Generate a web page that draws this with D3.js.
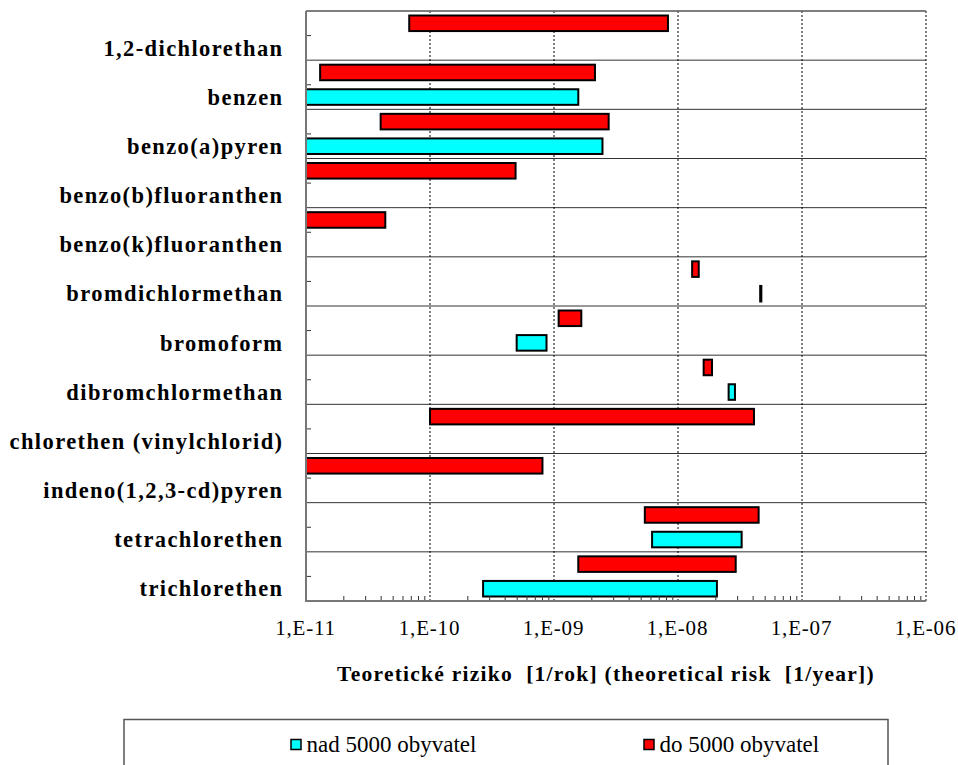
<!DOCTYPE html>
<html>
<head>
<meta charset="utf-8">
<script src="https://cdn.jsdelivr.net/npm/d3@7"></script>
<style>
  body { margin: 0; background: #fff; }
  svg { display: block; }
  text { font-family: "Liberation Serif", "Times New Roman", serif; fill: #000; }
</style>
</head>
<body>
<svg id="chart" width="958" height="765"></svg>
<script>
// categories, top to bottom
const categories = [
  "1,2-dichlorethan",
  "benzen",
  "benzo(a)pyren",
  "benzo(b)fluoranthen",
  "benzo(k)fluoranthen",
  "bromdichlormethan",
  "bromoform",
  "dibromchlormethan",
  "chlorethen (vinylchlorid)",
  "indeno(1,2,3-cd)pyren",
  "tetrachlorethen",
  "trichlorethen"
];

// "do 5000 obyvatel" (red) ranges
const smallLow  = [6.8e-11, 1.3e-11, 4.0e-11, 1e-11, 1e-11, 1.3e-8, 1.09e-9, 1.61e-8, 1.0e-10, 1e-11, 5.4e-9, 1.57e-9];
const smallHigh = [8.3e-9, 2.14e-9, 2.76e-9, 4.9e-10, 4.36e-11, 1.47e-8, 1.66e-9, 1.88e-8, 4.1e-8, 8.07e-10, 4.47e-8, 2.92e-8];

// "nad 5000 obyvatel" (cyan) ranges, null = no bar
const bigLow  = [null, 1e-11, 1e-11, null, null, 4.6e-8, 5.0e-10, 2.56e-8, null, null, 6.18e-9, 2.68e-10];
const bigHigh = [null, 1.57e-9, 2.46e-9, null, null, 4.7e-8, 8.7e-10, 2.88e-8, null, null, 3.26e-8, 2.06e-8];

const xTicks = [1e-11, 1e-10, 1e-9, 1e-8, 1e-7, 1e-6];
const xTickLabels = ["1,E-11", "1,E-10", "1,E-09", "1,E-08", "1,E-07", "1,E-06"];

const seriesNames = ["do 5000 obyvatel", "nad 5000 obyvatel"];
const seriesColors = ["#ff0000", "#00ffff"];

const LEFT = 306, RIGHT = 926, TOP = 11, BOTTOM = 601;

const svg = d3.select("#chart");

const x = d3.scaleLog().domain([1e-11, 1e-6]).range([LEFT, RIGHT]);
const y = d3.scaleBand().domain(categories).range([TOP, BOTTOM]).padding(0);
const ySub = d3.scaleBand().domain(seriesNames).range([0, y.bandwidth()])
  .paddingInner(0.286).paddingOuter(0.143);

// horizontal row lines
svg.append("g")
  .selectAll("line")
  .data(categories)
  .enter()
  .append("line")
  .attr("x1", LEFT).attr("x2", RIGHT)
  .attr("y1", (d) => y(d)).attr("y2", (d) => y(d))
  .attr("stroke", "#333").attr("stroke-width", 1);

// vertical dashed gridlines
svg.append("g")
  .selectAll("line")
  .data(xTicks.slice(1))
  .enter()
  .append("line")
  .attr("x1", (d) => x(d)).attr("x2", (d) => x(d))
  .attr("y1", TOP).attr("y2", BOTTOM)
  .attr("stroke", "#000").attr("stroke-width", 1)
  .attr("stroke-dasharray", "2,2");

// bars
const rows = categories.map((c, i) => ({
  cat: c,
  bars: [
    { s: seriesNames[0], lo: smallLow[i], hi: smallHigh[i], color: seriesColors[0] },
    { s: seriesNames[1], lo: bigLow[i], hi: bigHigh[i], color: seriesColors[1] }
  ].filter((b) => b.lo != null)
}));

svg.append("g")
  .selectAll("g")
  .data(rows)
  .enter()
  .append("g")
  .attr("transform", (d) => `translate(0,${y(d.cat)})`)
  .selectAll("rect")
  .data((d) => d.bars)
  .enter()
  .append("rect")
  .attr("x", (d) => x(d.lo))
  .attr("width", (d) => Math.max(0.3, x(d.hi) - x(d.lo)))
  .attr("y", (d) => ySub(d.s) + 1)
  .attr("height", ySub.bandwidth() - 2)
  .attr("fill", (d) => d.color)
  .attr("stroke", "#000")
  .attr("stroke-width", 2);

// minor ticks on bottom axis
const minor = [];
xTicks.slice(0, -1).forEach((t) => {
  for (let k = 2; k <= 9; k++) minor.push(t * k);
});
svg.append("g")
  .attr("transform", `translate(0,${BOTTOM})`)
  .call(d3.axisBottom(x).tickValues(minor).tickSize(-5).tickFormat(""))
  .call((g) => g.select(".domain").remove())
  .call((g) => g.selectAll("line").attr("stroke", "#333"));

// tick labels
svg.append("g")
  .attr("transform", `translate(0,${BOTTOM})`)
  .call(d3.axisBottom(x).tickValues(xTicks).tickSize(0).tickPadding(19.5)
    .tickFormat((d, i) => xTickLabels[i]))
  .call((g) => g.select(".domain").remove())
  .call((g) => g.selectAll("text")
    .attr("dx", "-1")
    .style("font-family", '"Liberation Serif", "Times New Roman", serif')
    .style("font-size", "21px")
    .style("letter-spacing", "0.8px"));

// left axis ticks
svg.append("g")
  .attr("transform", `translate(${LEFT},0)`)
  .call(d3.axisLeft(y).tickSize(-5).tickFormat(""))
  .call((g) => g.select(".domain").remove())
  .call((g) => g.selectAll("line").attr("stroke", "#333"));

// category labels
svg.append("g")
  .selectAll("text")
  .data(categories)
  .enter()
  .append("text")
  .attr("x", 283.5)
  .attr("y", (d) => y(d) + y.bandwidth() / 2 + 20)
  .attr("text-anchor", "end")
  .style("font-size", "22.5px")
  .style("font-weight", "bold")
  .style("letter-spacing", "1.4px")
  .text((d) => d);

// frame: left, bottom axis and top line
svg.append("line").attr("x1", LEFT).attr("x2", LEFT).attr("y1", TOP).attr("y2", BOTTOM + 1)
  .attr("stroke", "#777").attr("stroke-width", 2);
svg.append("line").attr("x1", LEFT).attr("x2", RIGHT).attr("y1", BOTTOM).attr("y2", BOTTOM)
  .attr("stroke", "#777").attr("stroke-width", 2);
svg.append("line").attr("x1", LEFT).attr("x2", RIGHT).attr("y1", TOP).attr("y2", TOP)
  .attr("stroke", "#777").attr("stroke-width", 1.5);

// axis title
svg.append("text")
  .attr("x", 606)
  .attr("y", 681)
  .attr("text-anchor", "middle")
  .style("font-size", "21.5px")
  .style("font-weight", "bold")
  .style("letter-spacing", "1.25px")
  .style("white-space", "pre")
  .text("Teoretické riziko  [1/rok] (theoretical risk  [1/year])");

// legend
svg.append("rect")
  .attr("x", 124).attr("y", 719.5).attr("width", 764).attr("height", 70)
  .attr("fill", "#fff").attr("stroke", "#555").attr("stroke-width", 1.5);

const legendItems = [
  { name: seriesNames[1], color: seriesColors[1], x: 291 },
  { name: seriesNames[0], color: seriesColors[0], x: 644 }
];
const lg = svg.append("g")
  .selectAll("g")
  .data(legendItems)
  .enter()
  .append("g")
  .attr("transform", (d) => `translate(${d.x},739.5)`);
lg.append("rect")
  .attr("width", 10).attr("height", 10)
  .attr("fill", (d) => d.color)
  .attr("stroke", "#000").attr("stroke-width", 1.5);
lg.append("text")
  .attr("x", 15.5).attr("y", 12.5)
  .style("font-size", "23px")
  .text((d) => d.name);
</script>
</body>
</html>
